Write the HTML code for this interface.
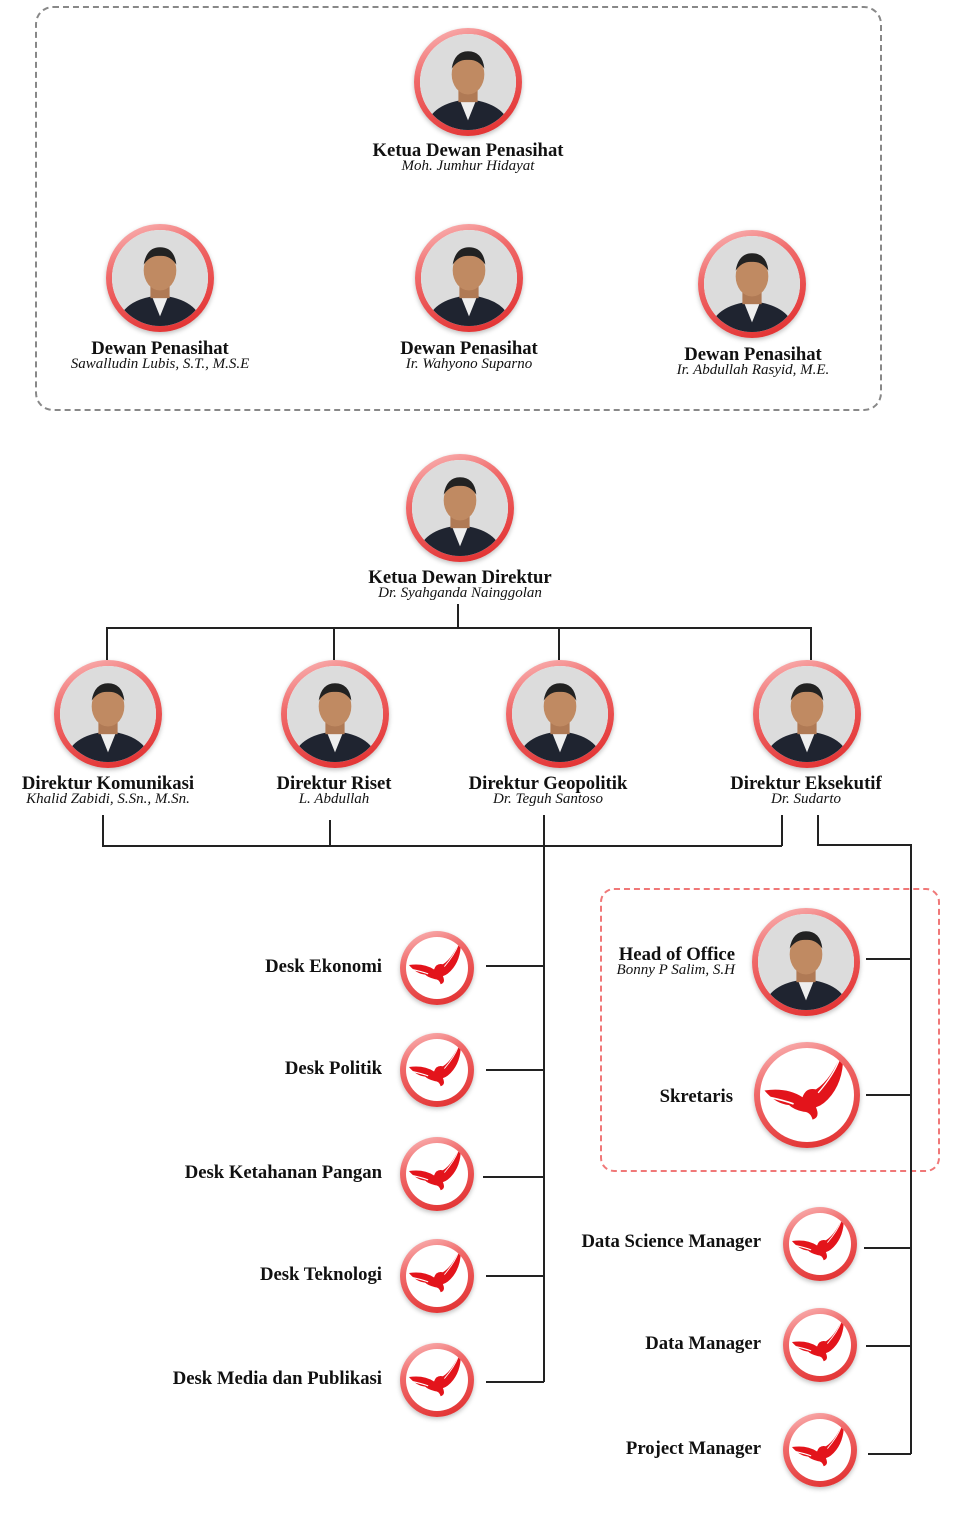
<!DOCTYPE html>
<html><head><meta charset="utf-8"><style>
body{margin:0;width:958px;height:1536px;background:#fff;position:relative;overflow:hidden;font-family:"Liberation Serif",serif;color:#111}
.a{position:absolute}
.ring{position:absolute;border-radius:50%;background:linear-gradient(160deg,#fbc0c0 0%,#f06a6a 35%,#e02a2a 100%);box-shadow:0 2px 5px rgba(0,0,0,.25)}
.ring>div{position:absolute;left:6px;top:6px;right:6px;bottom:6px;border-radius:50%;background:#fff;overflow:hidden}
.ring>div svg{width:100%;height:100%;display:block}
.t{position:absolute;font-weight:bold;font-size:18.7px;white-space:nowrap;transform:translateX(-50%)}
.n{position:absolute;font-style:italic;font-size:15px;white-space:nowrap;transform:translateX(-50%)}
.r{position:absolute;font-weight:bold;font-size:18.7px;white-space:nowrap;text-align:right}
.h{position:absolute;height:1.5px;background:#222}
.v{position:absolute;width:1.5px;background:#222}
</style></head><body>
<svg width="0" height="0" style="position:absolute"><defs>
<symbol id="ph" viewBox="0 0 100 100"><rect width="100" height="100" fill="#dcdcdc"/><path d="M5 100 Q10 72 50 68 Q90 72 95 100Z" fill="#1f2430"/><path d="M42 70 L50 90 L58 70Z" fill="#eee"/><rect x="40" y="55" width="20" height="16" fill="#b07a55"/><ellipse cx="50" cy="42" rx="17" ry="21" fill="#c08a62"/><path d="M33 36 Q36 18 50 18 Q65 18 67 36 Q60 26 50 27 Q40 26 33 36Z" fill="#222"/></symbol>
<symbol id="eg" viewBox="8 8 84 84"><path d="M12 46 Q32 43 46 52 Q49 43 58 45 Q72 36 82 10 Q84 34 72 50 Q65 59 58 61 Q62 70 55 72 Q53 65 47 65 Q38 63 34 59 Q22 58 12 46Z" fill="#e3141b"/><path d="M16 52 Q30 55 38 58" stroke="#fff" stroke-width="1.5" fill="none"/><path d="M60 48 Q74 32 79 18" stroke="#fff" stroke-width="1.2" fill="none"/></symbol>
</defs></svg>

<div class="a" style="left:35px;top:6px;width:843px;height:401px;border:2px dashed #888;border-radius:18px"></div>
<div class="a" style="left:600px;top:888px;width:336px;height:280px;border:2px dashed #f07878;border-radius:14px"></div>

<div class="ring" style="left:414px;top:28px;width:108px;height:108px"><div><svg><use href="#ph"/></svg></div></div>
<div class="ring" style="left:106px;top:224px;width:108px;height:108px"><div><svg><use href="#ph"/></svg></div></div>
<div class="ring" style="left:415px;top:224px;width:108px;height:108px"><div><svg><use href="#ph"/></svg></div></div>
<div class="ring" style="left:698px;top:230px;width:108px;height:108px"><div><svg><use href="#ph"/></svg></div></div>
<div class="ring" style="left:406px;top:454px;width:108px;height:108px"><div><svg><use href="#ph"/></svg></div></div>
<div class="ring" style="left:54px;top:660px;width:108px;height:108px"><div><svg><use href="#ph"/></svg></div></div>
<div class="ring" style="left:281px;top:660px;width:108px;height:108px"><div><svg><use href="#ph"/></svg></div></div>
<div class="ring" style="left:506px;top:660px;width:108px;height:108px"><div><svg><use href="#ph"/></svg></div></div>
<div class="ring" style="left:753px;top:660px;width:108px;height:108px"><div><svg><use href="#ph"/></svg></div></div>
<div class="ring" style="left:752px;top:908px;width:108px;height:108px"><div><svg><use href="#ph"/></svg></div></div>

<div class="ring" style="left:754px;top:1042px;width:106px;height:106px"><div><svg><use href="#eg"/></svg></div></div>
<div class="ring" style="left:400px;top:931px;width:74px;height:74px"><div><svg><use href="#eg"/></svg></div></div>
<div class="ring" style="left:400px;top:1033px;width:74px;height:74px"><div><svg><use href="#eg"/></svg></div></div>
<div class="ring" style="left:400px;top:1137px;width:74px;height:74px"><div><svg><use href="#eg"/></svg></div></div>
<div class="ring" style="left:400px;top:1239px;width:74px;height:74px"><div><svg><use href="#eg"/></svg></div></div>
<div class="ring" style="left:400px;top:1343px;width:74px;height:74px"><div><svg><use href="#eg"/></svg></div></div>
<div class="ring" style="left:783px;top:1207px;width:74px;height:74px"><div><svg><use href="#eg"/></svg></div></div>
<div class="ring" style="left:783px;top:1308px;width:74px;height:74px"><div><svg><use href="#eg"/></svg></div></div>
<div class="ring" style="left:783px;top:1413px;width:74px;height:74px"><div><svg><use href="#eg"/></svg></div></div>

<div class="t" style="left:468px;top:140px">Ketua Dewan Penasihat</div><div class="n" style="left:468px;top:158px">Moh. Jumhur Hidayat</div>
<div class="t" style="left:160px;top:338px">Dewan Penasihat</div><div class="n" style="left:160px;top:356px">Sawalludin Lubis, S.T., M.S.E</div>
<div class="t" style="left:469px;top:338px">Dewan Penasihat</div><div class="n" style="left:469px;top:356px">Ir. Wahyono Suparno</div>
<div class="t" style="left:753px;top:344px">Dewan Penasihat</div><div class="n" style="left:753px;top:362px">Ir. Abdullah Rasyid, M.E.</div>
<div class="t" style="left:460px;top:567px">Ketua Dewan Direktur</div><div class="n" style="left:460px;top:585px">Dr. Syahganda Nainggolan</div>
<div class="t" style="left:108px;top:773px">Direktur Komunikasi</div><div class="n" style="left:108px;top:791px">Khalid Zabidi, S.Sn., M.Sn.</div>
<div class="t" style="left:334px;top:773px">Direktur Riset</div><div class="n" style="left:334px;top:791px">L. Abdullah</div>
<div class="t" style="left:548px;top:773px">Direktur Geopolitik</div><div class="n" style="left:548px;top:791px">Dr. Teguh Santoso</div>
<div class="t" style="left:806px;top:773px">Direktur Eksekutif</div><div class="n" style="left:806px;top:791px">Dr. Sudarto</div>

<div class="r" style="right:576px;top:956px">Desk Ekonomi</div>
<div class="r" style="right:576px;top:1058px">Desk Politik</div>
<div class="r" style="right:576px;top:1162px">Desk Ketahanan Pangan</div>
<div class="r" style="right:576px;top:1264px">Desk Teknologi</div>
<div class="r" style="right:576px;top:1368px">Desk Media dan Publikasi</div>
<div class="r" style="right:223px;top:944px">Head of Office</div>
<div class="a" style="right:223px;top:962px;font-style:italic;font-size:15px;white-space:nowrap">Bonny P Salim, S.H</div>
<div class="r" style="right:225px;top:1086px">Skretaris</div>
<div class="r" style="right:197px;top:1231px">Data Science Manager</div>
<div class="r" style="right:197px;top:1333px">Data Manager</div>
<div class="r" style="right:197px;top:1438px">Project Manager</div>

<div class="v" style="left:457px;top:604px;height:23px"></div>
<div class="h" style="left:106px;top:627px;width:705px"></div>
<div class="v" style="left:106px;top:627px;height:33px"></div>
<div class="v" style="left:333px;top:627px;height:33px"></div>
<div class="v" style="left:558px;top:627px;height:33px"></div>
<div class="v" style="left:810px;top:627px;height:33px"></div>

<div class="v" style="left:102px;top:815px;height:31px"></div>
<div class="v" style="left:329px;top:820px;height:26px"></div>
<div class="v" style="left:781px;top:815px;height:31px"></div>
<div class="h" style="left:102px;top:845px;width:680px"></div>
<div class="v" style="left:543px;top:815px;height:567px"></div>
<div class="h" style="left:486px;top:965px;width:58px"></div>
<div class="h" style="left:486px;top:1069px;width:58px"></div>
<div class="h" style="left:483px;top:1176px;width:61px"></div>
<div class="h" style="left:486px;top:1275px;width:58px"></div>
<div class="h" style="left:486px;top:1381px;width:58px"></div>

<div class="v" style="left:817px;top:815px;height:30px"></div>
<div class="h" style="left:817px;top:844px;width:94px"></div>
<div class="v" style="left:910px;top:844px;height:610px"></div>
<div class="h" style="left:866px;top:958px;width:45px"></div>
<div class="h" style="left:866px;top:1094px;width:45px"></div>
<div class="h" style="left:864px;top:1247px;width:47px"></div>
<div class="h" style="left:866px;top:1345px;width:45px"></div>
<div class="h" style="left:868px;top:1453px;width:43px"></div>
</body></html>
